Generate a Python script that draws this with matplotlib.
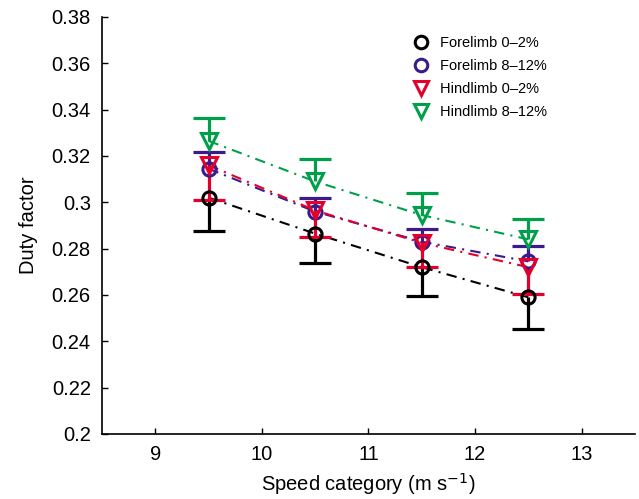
import matplotlib
matplotlib.use("Agg")
import matplotlib.pyplot as plt

plt.rcParams['font.family'] = ['Liberation Sans', 'DejaVu Sans']

speed = [9.5, 10.5, 11.5, 12.5]

labels = ["Forelimb 0\u20132%", "Forelimb 8\u201312%", "Hindlimb 0\u20132%", "Hindlimb 8\u201312%"]

fore_0_2 = [0.302, 0.2865, 0.272, 0.259]
fore_0_2_err = [0.0145, 0.0125, 0.0125, 0.0135]   # downward

fore_8_12 = [0.3145, 0.296, 0.283, 0.2745]
fore_8_12_err = [0.007, 0.006, 0.0055, 0.0065]  # upward

hind_0_2 = [0.316, 0.2965, 0.2825, 0.272]
hind_0_2_err = [0.015, 0.0115, 0.0105, 0.0115]  # downward

hind_8_12 = [0.3265, 0.309, 0.2945, 0.284]
hind_8_12_err = [0.010, 0.0095, 0.0095, 0.009]  # upward

colors = ['#000000', '#3B1A8C', '#E3002C', '#00A04A']
markers = ['o', 'o', 'v', 'v']

series = [(fore_0_2, fore_0_2_err, -1),
          (fore_8_12, fore_8_12_err, 1),
          (hind_0_2, hind_0_2_err, -1),
          (hind_8_12, hind_8_12_err, 1)]

fig = plt.figure(figsize=(6.39, 4.99), dpi=100)
ax = fig.add_axes([0.1596, 0.1303, 0.834, 0.8357])

handles = []
for (vals, err, side), c, m, lab in zip(series, colors, markers, labels):
    ends = [v + side * e for v, e in zip(vals, err)]
    ax.plot(speed, vals, linestyle=(0, (5, 3, 1, 3)), color=c, lw=1.5, zorder=2)
    ax.vlines(speed, vals, ends, colors=c, lw=2.3, zorder=3)
    ax.plot(speed, ends, linestyle='none', marker='_', markersize=23,
            markeredgewidth=2.3, color=c, zorder=3)
    ms = 9.5 if m == 'o' else 11
    h, = ax.plot(speed, vals, linestyle='none', marker=m, markersize=ms,
                 markerfacecolor='none', markeredgecolor=c, markeredgewidth=2.2,
                 zorder=4, label=lab)
    handles.append(h)

ax.set_xlim(8.5, 13.5)
ax.set_ylim(0.2, 0.38)
ax.set_xticks([9, 10, 11, 12, 13])
ax.set_yticks([0.2, 0.22, 0.24, 0.26, 0.28, 0.3, 0.32, 0.34, 0.36, 0.38])
ax.set_yticklabels(['0.2', '0.22', '0.24', '0.26', '0.28', '0.3', '0.32', '0.34', '0.36', '0.38'])
ax.tick_params(direction='in', length=4, width=1, labelsize=14.5, pad=8)
for s in ['top', 'right']:
    ax.spines[s].set_visible(False)
for s in ['left', 'bottom']:
    ax.spines[s].set_linewidth(1.2)

ax.set_xlabel('Speed category (m s$^{\u22121}$)', fontsize=14.5, labelpad=5)
ax.set_ylabel('Duty factor', fontsize=14.5, labelpad=10)

leg = ax.legend(handles=handles, loc='upper right', bbox_to_anchor=(0.86, 0.985),
                frameon=False, fontsize=10.5, handlelength=1.0, handletextpad=0.8,
                labelspacing=0.62, markerscale=0.95)

fig.savefig('out.png', dpi=100)
